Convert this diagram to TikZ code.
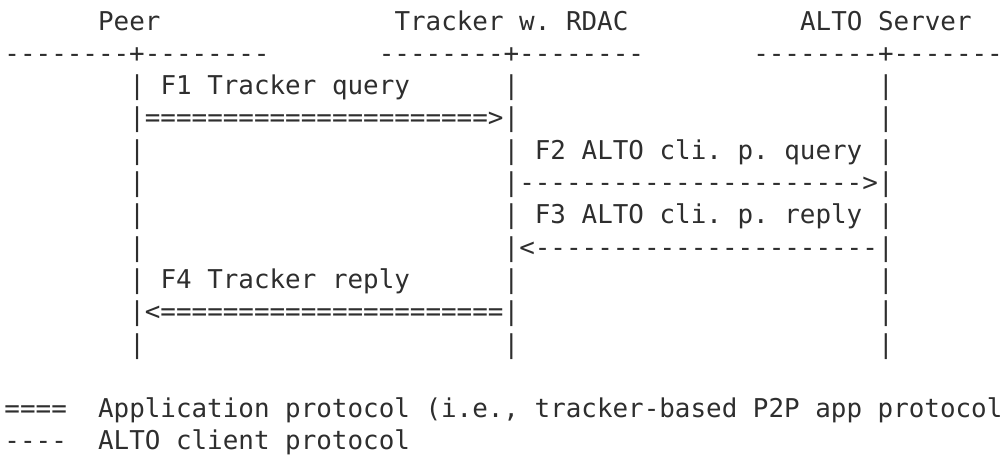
\documentclass[tikz,border=0pt]{standalone}
\usepackage{fontspec}
\setmonofont{DejaVu Sans Mono}
\usepackage{tikz}
\definecolor{ink}{HTML}{2E2E2E}
\tikzset{
  ascii/.style={anchor=base west, inner sep=0pt, outer sep=0pt, text=ink,
    font=\ttfamily\fontsize{25.9pt}{32.3pt}\selectfont\frenchspacing}
}

\begin{document}
\begin{tikzpicture}[x=15.6pt, y=-32.3pt]
    \useasboundingbox (-4.5pt, 30pt) rectangle (1001.5pt, -428pt);

    % entities
    \node [ascii] (peer)    at ( 6, 0) {Peer};
    \node [ascii] (tracker) at (25, 0) {Tracker w. RDAC};
    \node [ascii] (alto)    at (51, 0) {ALTO Server};

    \node [ascii] (peerrule)    at ( 0, 1) {--------+--------};
    \node [ascii] (trackerrule) at (24, 1) {--------+--------};
    \node [ascii] (altorule)    at (48, 1) {--------+-------};

    % lifelines
    \foreach \c in {8, 32, 56} {
      \foreach \r in {2, ..., 10} {
        \node [ascii] (bar-\c-\r) at (\c, \r) {|};
      }
    }

    % messages
    \node [ascii] (f1)     at (10, 2) {F1 Tracker query};
    \node [ascii] (f1line) at ( 9, 3) {======================>};

    \node [ascii] (f2)     at (34, 4) {F2 ALTO cli. p. query};
    \node [ascii] (f2line) at (33, 5) {---------------------->};

    \node [ascii] (f3)     at (34, 6) {F3 ALTO cli. p. reply};
    \node [ascii] (f3line) at (33, 7) {<----------------------};

    \node [ascii] (f4)     at (10, 8) {F4 Tracker reply};
    \node [ascii] (f4line) at ( 9, 9) {<======================};

    % legend
    \node [ascii] (appkey)  at (0, 12) {====};
    \node [ascii] (apptext) at (6, 12) {Application protocol (i.e., tracker-based P2P app protocol};
    \node [ascii] (cpkey)   at (0, 13) {----};
    \node [ascii] (cptext)  at (6, 13) {ALTO client protocol};
  \end{tikzpicture}
\end{document}
